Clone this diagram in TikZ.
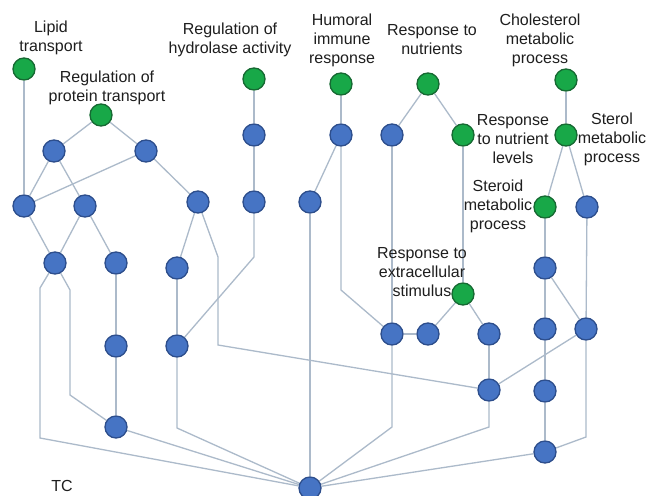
\documentclass[tikz,border=0pt]{standalone}
\usepackage{fontspec}
\setmainfont{Liberation Sans}
\definecolor{bluefill}{RGB}{70,116,196}
\definecolor{blueline}{RGB}{45,78,140}
\definecolor{greenfill}{RGB}{24,168,72}
\definecolor{greenline}{RGB}{22,105,50}
\definecolor{edgecol}{RGB}{172,186,202}
\definecolor{txt}{RGB}{30,30,30}
\pgfdeclarelayer{bg}
\pgfsetlayers{bg,main}
\tikzset{
  bnode/.style={circle,minimum size=22pt,inner sep=0pt,fill=bluefill,draw=blueline,line width=1.3pt},
  gnode/.style={circle,minimum size=22pt,inner sep=0pt,fill=greenfill,draw=greenline,line width=1.3pt},
  lbl/.style={align=center,inner sep=0pt,text=txt,font=\fontsize{16}{19}\selectfont},
  edge/.style={draw=edgecol,line width=1.3pt}
}
\begin{document}
\begin{tikzpicture}[x=1pt,y=-1pt]
\useasboundingbox (0,0) rectangle (649,496);
% green nodes
\node[gnode] (G1) at (24,69) {};
\node[gnode] (G2) at (101,115) {};
\node[gnode] (G3) at (254,79) {};
\node[gnode] (G4) at (341,84) {};
\node[gnode] (G5) at (428,84) {};
\node[gnode] (G6) at (463,135) {};
\node[gnode] (G7) at (566,80) {};
\node[gnode] (G8) at (566,135) {};
\node[gnode] (G9) at (545,207) {};
\node[gnode] (G10) at (463,294) {};
% blue nodes
\node[bnode] (B1) at (54,151) {};
\node[bnode] (B2) at (146,151) {};
\node[bnode] (B3) at (24,206) {};
\node[bnode] (B4) at (85,206) {};
\node[bnode] (B5) at (55,263) {};
\node[bnode] (B6) at (116,263) {};
\node[bnode] (B7) at (198,202) {};
\node[bnode] (B8) at (177,268) {};
\node[bnode] (B9) at (116,346) {};
\node[bnode] (B10) at (177,346) {};
\node[bnode] (B11) at (116,427) {};
\node[bnode] (B12) at (254,135) {};
\node[bnode] (B13) at (254,202) {};
\node[bnode] (B14) at (341,135) {};
\node[bnode] (B15) at (310,202) {};
\node[bnode] (B16) at (392,135) {};
\node[bnode] (B17) at (392,334) {};
\node[bnode] (B18) at (428,334) {};
\node[bnode] (B19) at (489,334) {};
\node[bnode] (B20) at (489,390) {};
\node[bnode] (B21) at (587,207) {};
\node[bnode] (B22) at (545,268) {};
\node[bnode] (B23) at (545,329) {};
\node[bnode] (B24) at (586,329) {};
\node[bnode] (B25) at (545,391) {};
\node[bnode] (B26) at (545,452) {};
\node[bnode] (B27) at (310,488) {};
% labels
\node[lbl] (L1) at (51,38) {Lipid\\transport};
\node[lbl] (L2) at (107,88) {Regulation of\\protein transport};
\node[lbl] (L3) at (230,40) {Regulation of\\hydrolase activity};
\node[lbl] (L4) at (342,40) {Humoral\\immune\\response};
\node[lbl] (L5) at (432,40) {Response to\\nutrients};
\node[lbl] (L6) at (540,40) {Cholesterol\\metabolic\\process};
\node[lbl] (L7) at (513,139) {Response\\to nutrient\\levels};
\node[lbl] (L8) at (612,139) {Sterol\\metabolic\\process};
\node[lbl] (L9) at (498,206) {Steroid\\metabolic\\process};
\node[lbl] (L10) at (422,272) {Response to\\extracellular\\stimulus};
\node[lbl] (L11) at (62,486) {TC};
% edges
\begin{pgfonlayer}{bg}
\fill[white] (0,0) rectangle (649,496);
\draw[edge] (G1) -- (B3);
\draw[edge] (G2) -- (B1);
\draw[edge] (G2) -- (B2);
\draw[edge] (B1) -- (B3);
\draw[edge] (B1) -- (B4);
\draw[edge] (B2) -- (B3);
\draw[edge] (B2) -- (B7);
\draw[edge] (B3) -- (B5);
\draw[edge] (B4) -- (B5);
\draw[edge] (B4) -- (B6);
\draw[edge] (B5) -- (40,288) -- (40,438) -- (B27);
\draw[edge] (B5) -- (70,290) -- (70,395) -- (B11);
\draw[edge] (B6) -- (B9);
\draw[edge] (B9) -- (B11);
\draw[edge] (B11) -- (B27);
\draw[edge] (B7) -- (B8);
\draw[edge] (B7) -- (218,257) -- (218,345) -- (B20);
\draw[edge] (B8) -- (B10);
\draw[edge] (G3) -- (B12);
\draw[edge] (B12) -- (B13);
\draw[edge] (B13) -- (254,257) -- (B10);
\draw[edge] (B10) -- (177,428) -- (B27);
\draw[edge] (G4) -- (B14);
\draw[edge] (B14) -- (B15);
\draw[edge] (B15) -- (B27);
\draw[edge] (B14) -- (341,290) -- (B17);
\draw[edge] (G5) -- (B16);
\draw[edge] (G5) -- (G6);
\draw[edge] (B16) -- (B17);
\draw[edge] (B17) -- (392,427) -- (B27);
\draw[edge] (G6) -- (G10);
\draw[edge] (G10) -- (B18);
\draw[edge] (G10) -- (B19);
\draw[edge] (B17) -- (B18);
\draw[edge] (B19) -- (B20);
\draw[edge] (B20) -- (489,427) -- (B27);
\draw[edge] (B20) -- (B24);
\draw[edge] (G7) -- (G8);
\draw[edge] (G8) -- (G9);
\draw[edge] (G8) -- (B21);
\draw[edge] (G9) -- (B22);
\draw[edge] (B22) -- (B23);
\draw[edge] (B23) -- (B25);
\draw[edge] (B25) -- (B26);
\draw[edge] (B22) -- (B24);
\draw[edge] (B21) -- (B24);
\draw[edge] (B24) -- (586,437) -- (B26);
\draw[edge] (B26) -- (B27);
\end{pgfonlayer}
\end{tikzpicture}
\end{document}
